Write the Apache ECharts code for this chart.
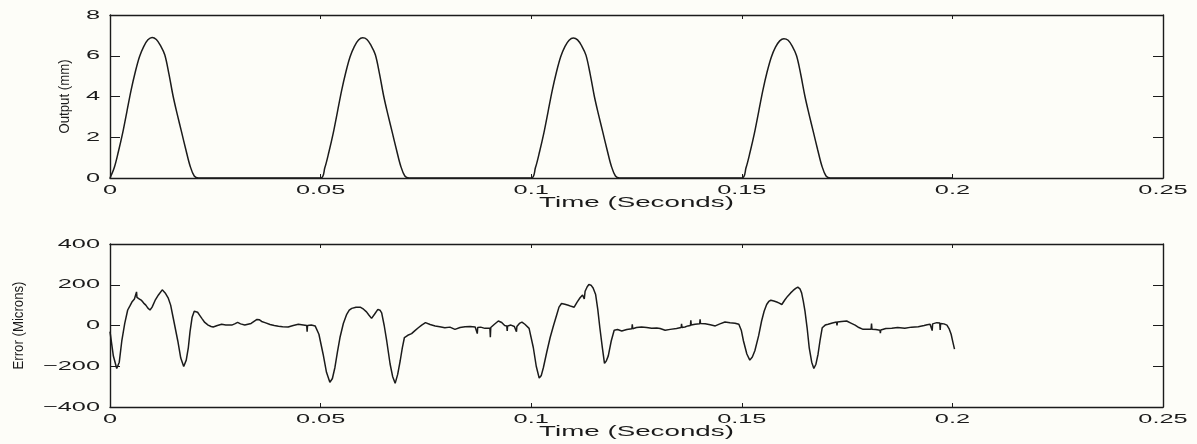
<!DOCTYPE html>
<html>
<head>
<meta charset="utf-8">
<script src="https://cdn.jsdelivr.net/npm/echarts@6/dist/echarts.min.js"></script>
<style>
  html, body { margin: 0; padding: 0; background: #fdfdf8; }
  #chart { width: 1197px; height: 444px; }
</style>
</head>
<body>
<div id="chart"></div>
<script>
// ---- axis ticks ----
const timeTicks = [0, 0.05, 0.1, 0.15, 0.2, 0.25];
const timeTickLabels = ['0', '0.05', '0.1', '0.15', '0.2', '0.25'];
const outputTicks = [0, 2, 4, 6, 8];
const outputTickLabels = ['0', '2', '4', '6', '8'];
const errorTicks = [-400, -200, 0, 200, 400];
const errorTickLabels = ['\u2212400', '\u2212200', '0', '200', '400'];

// ---- output displacement (mm): four cam pulses, sampled every 1 ms from each start ----
const pulseStart = [0, 0.05, 0.10, 0.15];
const pulse1 = [0, 0.5, 1.3, 2.2, 3.25, 4.3, 5.2, 5.95, 6.45, 6.78, 6.9, 6.8, 6.5, 6.05, 5.1, 4.0, 3.1, 2.25, 1.4, 0.6, 0.1, 0];
const pulse2 = [0, 0.5, 1.3, 2.2, 3.25, 4.3, 5.2, 5.95, 6.45, 6.77, 6.88, 6.8, 6.5, 6.05, 5.1, 4.0, 3.1, 2.25, 1.4, 0.6, 0.1, 0];
const pulse3 = [0, 0.5, 1.3, 2.2, 3.25, 4.3, 5.2, 5.95, 6.45, 6.76, 6.87, 6.78, 6.48, 6.03, 5.1, 4.0, 3.1, 2.25, 1.4, 0.6, 0.1, 0];
const pulse4 = [0, 0.5, 1.3, 2.2, 3.25, 4.3, 5.2, 5.93, 6.42, 6.73, 6.84, 6.76, 6.46, 6.0, 5.08, 4.0, 3.1, 2.25, 1.4, 0.6, 0.1, 0];
const outputEnd = [0.2, 0];

// ---- tracking error (microns) ----
const errTime = [
  0.0000, 0.0008, 0.0016, 0.0022, 0.0028, 0.0035, 0.0042, 0.0047, 0.0052, 0.0058,
  0.0062, 0.0063, 0.0064, 0.0070, 0.0075, 0.0080, 0.0085, 0.0090, 0.0095, 0.0100,
  0.0107, 0.0115, 0.0124, 0.0131, 0.0138, 0.0144, 0.0150, 0.0161, 0.0168, 0.0175,
  0.0181, 0.0186, 0.0190, 0.0195, 0.0200, 0.0203, 0.0208, 0.0213, 0.0218, 0.0225,
  0.0233, 0.0240, 0.0245, 0.0255, 0.0265, 0.0275, 0.0289, 0.0296, 0.0303, 0.0310,
  0.0320, 0.0335, 0.0349, 0.0355, 0.0360, 0.0368, 0.0380, 0.0390, 0.0400, 0.0410,
  0.0423, 0.0435, 0.0447, 0.0455, 0.0467, 0.0468, 0.0469, 0.0478, 0.0487, 0.0496,
  0.0506, 0.0514, 0.0522, 0.0528, 0.0534, 0.0540, 0.0546, 0.0554, 0.0562, 0.0568,
  0.0574, 0.0584, 0.0594, 0.0602, 0.0609, 0.0615, 0.0621, 0.0628, 0.0636, 0.0641,
  0.0645, 0.0651, 0.0657, 0.0665, 0.0671, 0.0677, 0.0683, 0.0689, 0.0694, 0.0699,
  0.0707, 0.0716, 0.0724, 0.0732, 0.0740, 0.0749, 0.0760, 0.0772, 0.0783, 0.0795,
  0.0807, 0.0819, 0.0831, 0.0843, 0.0855, 0.0867, 0.0871, 0.0872, 0.0873, 0.0880,
  0.0890, 0.0902, 0.0903, 0.0904, 0.0912, 0.0922, 0.0930, 0.0937, 0.0942, 0.0943,
  0.0944, 0.0952, 0.0960, 0.0964, 0.0965, 0.0966, 0.0972, 0.0978, 0.0985, 0.0995,
  0.1005, 0.1012, 0.1019, 0.1024, 0.1029, 0.1037, 0.1045, 0.1053, 0.1061, 0.1066,
  0.1072, 0.1080, 0.1088, 0.1095, 0.1102, 0.1109, 0.1116, 0.1122, 0.1125, 0.1126,
  0.1128, 0.1133, 0.1137, 0.1142, 0.1147, 0.1153, 0.1158, 0.1163, 0.1169, 0.1174,
  0.1178, 0.1183, 0.1190, 0.1197, 0.1205, 0.1215, 0.1227, 0.1239, 0.1240, 0.1241,
  0.1250, 0.1262, 0.1274, 0.1286, 0.1298, 0.1306, 0.1318, 0.1330, 0.1345, 0.1356,
  0.1357, 0.1358, 0.1365, 0.1372, 0.1378, 0.1379, 0.1380, 0.1389, 0.1400, 0.1401,
  0.1402, 0.1413, 0.1425, 0.1437, 0.1448, 0.1460, 0.1472, 0.1484, 0.1493, 0.1499,
  0.1504, 0.1512, 0.1519, 0.1525, 0.1531, 0.1540, 0.1547, 0.1553, 0.1559, 0.1564,
  0.1569, 0.1576, 0.1583, 0.1589, 0.1595, 0.1602, 0.1609, 0.1616, 0.1622, 0.1628,
  0.1633, 0.1638, 0.1642, 0.1646, 0.1650, 0.1655, 0.1660, 0.1666, 0.1671, 0.1676,
  0.1681, 0.1686, 0.1691, 0.1698, 0.1705, 0.1715, 0.1725, 0.1726, 0.1727, 0.1737,
  0.1749, 0.1759, 0.1769, 0.1778, 0.1788, 0.1798, 0.1807, 0.1808, 0.1809, 0.1818,
  0.1828, 0.1829, 0.1830, 0.1842, 0.1856, 0.1870, 0.1887, 0.1903, 0.1919, 0.1933,
  0.1940, 0.1947, 0.1951, 0.1952, 0.1953, 0.1963, 0.1970, 0.1971, 0.1972, 0.1980,
  0.1987, 0.1992, 0.1997, 0.2001, 0.2005
];
const errValue = [
  -30, -150, -211, -180, -76, 10, 76, 95, 115, 130,
  138, 165, 138, 130, 123, 110, 100, 85, 76, 90,
  123, 150, 175, 160, 136, 100, 38, -76, -160, -201,
  -170, -108, -30, 41, 70, 76, 65, 50, 35, 15,
  2, -5, -7, 0, 6, 3, 2, 8, 15, 8,
  2, 10, 30, 28, 20, 14, 5, 0, -4, -6,
  -7, 0, 6, 4, 0, -30, 0, 2, -2, -43,
  -141, -230, -279, -260, -206, -130, -59, 10, 55, 75,
  84, 90, 90, 80, 67, 50, 35, 55, 79, 75,
  62, 0, -76, -189, -250, -284, -240, -173, -110, -59,
  -48, -40, -25, -11, 2, 14, 5, -2, -6, -11,
  -8, -19, -10, -6, -5, -7, -10, -40, -10, -8,
  -14, -14, -58, -10, 5, 22, 15, 0, -2, -27,
  -2, 2, -5, -11, -30, -5, 10, 17, 6, -14,
  -108, -200, -258, -245, -206, -130, -59, 0, 55, 90,
  108, 104, 99, 94, 90, 115, 136, 150, 150, 130,
  168, 190, 201, 198, 184, 152, 80, -11, -110, -186,
  -175, -149, -76, -23, -20, -27, -20, -16, 6, -16,
  -10, -7, -10, -14, -12, -15, -23, -19, -15, -10,
  8, -10, -7, -2, 0, 25, 2, 6, 8, 30,
  10, 9, 4, -2, 8, 17, 13, 11, 6, -25,
  -76, -140, -170, -155, -124, -50, 22, 70, 103, 118,
  124, 120, 115, 110, 103, 125, 144, 160, 172, 182,
  188, 180, 160, 120, 71, -10, -108, -180, -211, -190,
  -141, -70, -11, 2, 6, 12, 17, 0, 17, 20,
  22, 12, 2, -10, -19, -18, -18, 10, -18, -20,
  -23, -38, -22, -15, -14, -10, -14, -8, -6, 0,
  4, 6, 8, -25, 8, 14, 12, -22, 10, 8,
  2, -15, -43, -80, -116
];

// ---- build series data ----
const pulses = [pulse1, pulse2, pulse3, pulse4];
const outputData = [];
pulses.forEach((vals, p) => {
  vals.forEach((v, k) => outputData.push([+(pulseStart[p] + k * 0.001).toFixed(4), v]));
});
outputData.push(outputEnd);
const errorData = errTime.map((t, i) => [t, errValue[i]]);

// ---- styling ----
const INK = '#1b1b1b';
const frameLine = { show: true, onZero: false, lineStyle: { color: INK, width: 1.4 } };

function xAxes(grid) {
  const base = {
    type: 'value', gridIndex: grid, min: 0, max: 0.25, interval: 0.05,
    axisLine: frameLine,
    axisTick: { show: true, inside: true, length: 4, lineStyle: { color: INK, width: 1 } },
    axisLabel: { show: false }, splitLine: { show: false }
  };
  return [Object.assign({ position: 'bottom' }, base), Object.assign({ position: 'top' }, base)];
}
function yAxes(grid, min, max, interval) {
  const base = {
    type: 'value', gridIndex: grid, min: min, max: max, interval: interval,
    axisLine: frameLine,
    axisTick: { show: true, inside: true, length: 10, lineStyle: { color: INK, width: 1 } },
    axisLabel: { show: false }, splitLine: { show: false }
  };
  return [Object.assign({ position: 'left' }, base), Object.assign({ position: 'right' }, base)];
}

const chart = echarts.init(document.getElementById('chart'));
chart.setOption({
  animation: false,
  backgroundColor: '#fdfdf8',
  grid: [
    { left: 110, right: 34, top: 15, height: 163 },
    { left: 110, right: 34, top: 244, height: 163 }
  ],
  xAxis: xAxes(0).concat(xAxes(1)),
  yAxis: yAxes(0, 0, 8, 2).concat(yAxes(1, -400, 400, 200)),
  series: [
    {
      name: 'Output', type: 'line', xAxisIndex: 0, yAxisIndex: 0,
      data: outputData, showSymbol: false, smooth: 0.35,
      lineStyle: { color: INK, width: 1.5 }
    },
    {
      name: 'Error', type: 'line', xAxisIndex: 2, yAxisIndex: 2,
      data: errorData, showSymbol: false, smooth: false,
      lineStyle: { color: INK, width: 1.5 }
    }
  ]
});

// ---- wide-set tick labels and titles, placed through the axes' own scales ----
const tickFont = '13px "Liberation Sans", Arial, sans-serif';
const titleFont = '15px "Liberation Sans", Arial, sans-serif';
const nameFont = '15px "Liberation Sans", Arial, sans-serif';

function label(text, x, y, font, align, vAlign, extra) {
  return Object.assign({
    type: 'text', x: x, y: y, silent: true,
    style: { text: text, font: font, fill: INK, align: align, verticalAlign: vAlign,
             textAlign: align, textVerticalAlign: vAlign }
  }, extra || {});
}

const panels = [
  { xi: 0, yi: 0, ymin: 0, ticks: outputTicks, labels: outputTickLabels, name: 'Output (mm)', nameOffset: 45 },
  { xi: 2, yi: 2, ymin: -400, ticks: errorTicks, labels: errorTickLabels, name: 'Error (Microns)', nameOffset: 91 }
];
const graphics = [];
panels.forEach(p => {
  const finder = { xAxisIndex: p.xi, yAxisIndex: p.yi };
  timeTicks.forEach((t, i) => {
    const pt = chart.convertToPixel(finder, [t, p.ymin]);
    graphics.push(label(timeTickLabels[i], pt[0], pt[1] + 12, tickFont, 'center', 'middle', { scaleX: 1.95 }));
  });
  p.ticks.forEach((v, i) => {
    const pt = chart.convertToPixel(finder, [0, v]);
    graphics.push(label(p.labels[i], pt[0] - 10, pt[1], tickFont, 'right', 'middle', { scaleX: 1.95 }));
  });
  const mid = chart.convertToPixel(finder, [0.125, p.ymin]);
  graphics.push(label('Time (Seconds)', mid[0], mid[1] + 25, titleFont, 'center', 'middle', { scaleX: 1.85 }));
  const yTop = chart.convertToPixel(finder, [0, p.ticks[p.ticks.length - 1]]);
  const yBot = chart.convertToPixel(finder, [0, p.ticks[0]]);
  graphics.push(label(p.name, yTop[0] - p.nameOffset, (yTop[1] + yBot[1]) / 2, nameFont, 'center', 'middle',
    { rotation: Math.PI / 2, scaleX: 0.88 }));
});
chart.setOption({ graphic: graphics });
</script>
</body>
</html>
